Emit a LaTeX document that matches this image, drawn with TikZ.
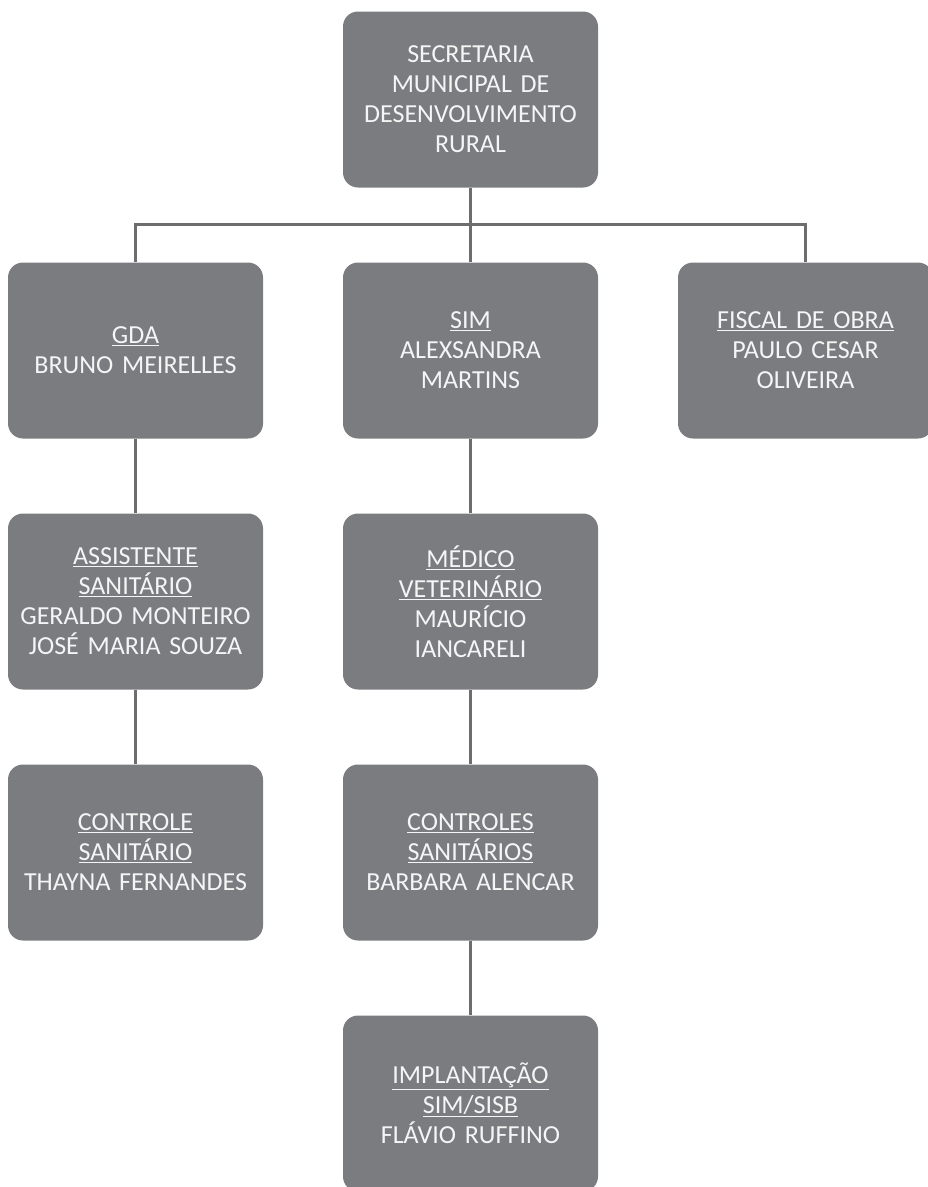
\documentclass[tikz,border=0pt]{standalone}
\usepackage{fontspec}
\setmainfont{Carlito}
\definecolor{boxgray}{HTML}{7B7C80}
\definecolor{linegray}{HTML}{6D6D6D}

\begin{document}
\begin{tikzpicture}[x=1pt,y=-1pt,node distance=251pt]
  \tikzstyle{every node}=[rounded corners=15pt,minimum width=255pt,minimum height=176pt,text width=250pt,align=center,inner sep=0pt]
  \tikzstyle{cargo}=[fill=boxgray,text=white!96!black,font=\fontsize{26}{30}\selectfont]
  \tikzstyle{link}=[draw=linegray,line width=2.5pt]

  \useasboundingbox (0,0) rectangle (928,1187);

  \node[cargo] (smdr)      at (470.5,99.5)                    {SECRETARIA\\MUNICIPAL DE\\DESENVOLVIMENTO\\RURAL};
  \node[cargo] (sim)       [below of=smdr]                    {\underline{SIM}\\ALEXSANDRA\\MARTINS};
  \node[cargo] (gda)       [left of=sim,node distance=335pt]  {\underline{GDA}\\BRUNO MEIRELLES};
  \node[cargo] (fiscal)    [right of=sim,node distance=335pt] {\underline{FISCAL DE OBRA}\\PAULO CESAR\\OLIVEIRA};

  \node[cargo] (assist)    [below of=gda]       {\underline{ASSISTENTE}\\\underline{SANITÁRIO}\\GERALDO MONTEIRO\\JOSÉ MARIA SOUZA};
  \node[cargo] (controle)  [below of=assist]    {\underline{CONTROLE}\\\underline{SANITÁRIO}\\THAYNA FERNANDES};

  \node[cargo] (medico)    [below of=sim]       {\underline{MÉDICO}\\\underline{VETERINÁRIO}\\MAURÍCIO\\IANCARELI};
  \node[cargo] (controles) [below of=medico]    {\underline{CONTROLES}\\\underline{SANITÁRIOS}\\BARBARA ALENCAR};
  \node[cargo] (implant)   [below of=controles] {\underline{IMPLANTAÇÃO}\\\underline{SIM/SISB}\\FLÁVIO RUFFINO};

  \draw[link] (smdr) -- (sim);
  \draw[link] (gda.north) -- ++(0,-38) -| (fiscal.north);

  \draw[link] (gda) -- (assist);
  \draw[link] (assist) -- (controle);

  \draw[link] (sim) -- (medico);
  \draw[link] (medico) -- (controles);
  \draw[link] (controles) -- (implant);

\end{tikzpicture}
\end{document}
